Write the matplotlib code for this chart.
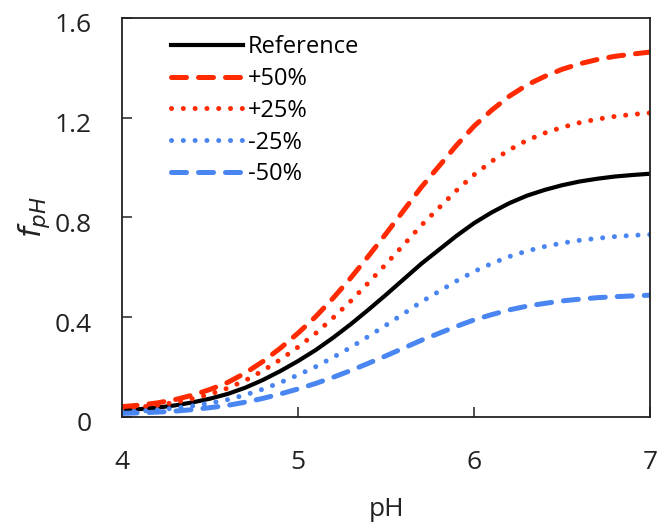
import matplotlib.pyplot as plt
from matplotlib.transforms import ScaledTranslation

ph = [4.0, 4.1, 4.2, 4.3, 4.4, 4.5, 4.6, 4.7, 4.8, 4.9,
      5.0, 5.1, 5.2, 5.3, 5.4, 5.5, 5.6, 5.7, 5.8, 5.9,
      6.0, 6.1, 6.2, 6.3, 6.4, 6.5, 6.6, 6.7, 6.8, 6.9, 7.0]

reference = [0.027, 0.031, 0.037, 0.046, 0.058, 0.073, 0.092, 0.117, 0.148, 0.184,
             0.224, 0.268, 0.318, 0.372, 0.430, 0.490, 0.552, 0.614, 0.670, 0.726,
             0.777, 0.820, 0.857, 0.887, 0.910, 0.929, 0.944, 0.955, 0.964, 0.970, 0.975]
plus50 = [0.041, 0.047, 0.056, 0.069, 0.087, 0.110, 0.138, 0.176, 0.222, 0.276,
          0.336, 0.402, 0.477, 0.558, 0.645, 0.735, 0.828, 0.921, 1.005, 1.089,
          1.166, 1.230, 1.286, 1.331, 1.365, 1.394, 1.416, 1.433, 1.446, 1.455, 1.463]
plus25 = [0.034, 0.039, 0.046, 0.058, 0.073, 0.091, 0.115, 0.146, 0.185, 0.230,
          0.280, 0.335, 0.398, 0.465, 0.538, 0.613, 0.690, 0.768, 0.838, 0.908,
          0.971, 1.025, 1.071, 1.109, 1.138, 1.161, 1.180, 1.194, 1.205, 1.213, 1.219]
minus25 = [0.020, 0.023, 0.028, 0.035, 0.044, 0.055, 0.069, 0.088, 0.111, 0.138,
           0.168, 0.201, 0.239, 0.279, 0.323, 0.368, 0.414, 0.461, 0.503, 0.545,
           0.583, 0.615, 0.643, 0.665, 0.683, 0.697, 0.708, 0.716, 0.723, 0.728, 0.731]
minus50 = [0.014, 0.016, 0.019, 0.023, 0.029, 0.037, 0.046, 0.059, 0.074, 0.092,
           0.112, 0.134, 0.159, 0.186, 0.215, 0.245, 0.276, 0.307, 0.335, 0.363,
           0.389, 0.410, 0.429, 0.444, 0.455, 0.465, 0.472, 0.478, 0.482, 0.485, 0.488]

red = "#ff2a00"
blue = "#4a86f2"

plt.rcParams['font.family'] = ['Open Sans', 'DejaVu Sans']
plt.rcParams['mathtext.fontset'] = 'dejavusans'

fig = plt.figure(figsize=(6.6, 5.27), dpi=100)
ax = fig.add_axes([0.185, 0.209, 0.800, 0.757])

ax.plot(ph, reference, color="black", lw=3.0, label="Reference")
ax.plot(ph, plus50, color=red, lw=3.6, dashes=(3.0, 2.4), dash_capstyle="round", label="+50%")
ax.plot(ph, plus25, color=red, lw=3.6, dashes=(0.01, 2.35), dash_capstyle="round", label="+25%")
ax.plot(ph, minus25, color=blue, lw=3.6, dashes=(0.01, 2.35), dash_capstyle="round", label="-25%")
ax.plot(ph, minus50, color=blue, lw=3.6, dashes=(3.0, 2.4), dash_capstyle="round", label="-50%")

ax.set_xlim(4, 7)
ax.set_ylim(0, 1.6)
ax.set_xticks([4, 5, 6, 7])
ax.set_yticks([0, 0.4, 0.8, 1.2, 1.6])
ax.set_yticklabels(["0", "0.4", "0.8", "1.2", "1.6"])
ax.tick_params(direction="in", length=7, width=1.1, labelsize=19, colors="#222222")
ax.tick_params(axis="x", pad=24)
ax.tick_params(axis="y", pad=22)
for s in ax.spines.values():
    s.set_linewidth(1.3)
    s.set_color("#222222")

# y tick labels sit a little below their ticks in the original
shift = ScaledTranslation(0, -0.05, fig.dpi_scale_trans)
for t in ax.yaxis.get_major_ticks():
    t.label1.set_transform(t.label1.get_transform() + shift)

ax.set_xlabel("pH", fontsize=19, labelpad=16, color="#222222")
ax.set_ylabel("$f_{pH}$", fontsize=22, labelpad=2, color="#222222")

ax.legend(loc="upper left", bbox_to_anchor=(0.053, 1.01), frameon=False, fontsize=17,
          handlelength=3.05, handletextpad=0.2, labelspacing=0.33)

fig.savefig("out.png", dpi=100)
